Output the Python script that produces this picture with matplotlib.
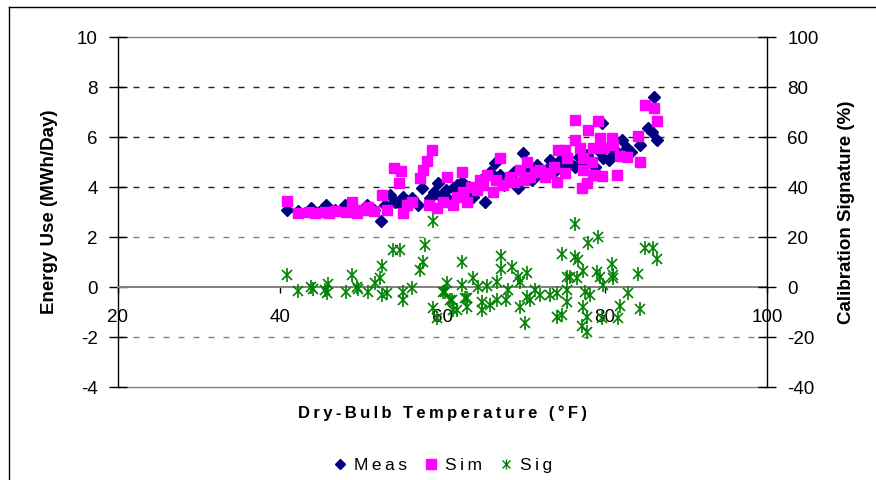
import matplotlib
matplotlib.use("Agg")
import matplotlib.pyplot as plt
from matplotlib.lines import Line2D
from matplotlib.legend_handler import HandlerTuple

plt.rcParams['font.family'] = ['Liberation Sans', 'DejaVu Sans']

# ---------------- data ----------------
meas_temp = [40.8, 42.2, 43.8, 44.8, 45.6, 46.8, 48.0, 49.2, 50.7, 51.5, 52.4, 52.9, 53.5, 54.2,
             55.1, 55.1, 55.8, 56.2, 57.0, 57.5, 58.5, 58.9, 59.4, 59.8, 60.4, 60.8, 61.3, 61.8,
             62.4, 62.8, 63.3, 63.8, 64.4, 64.8, 65.2, 65.8, 66.5, 67.1, 67.6, 68.3, 68.8, 69.3,
             69.9, 70.4, 71.0, 71.6, 72.2, 72.8, 73.3, 73.8, 74.5, 75.1, 75.6, 76.3, 76.8, 77.3,
             77.8, 78.2, 78.8, 79.2, 79.7, 79.8, 80.5, 81.0, 81.3, 82.1, 82.7, 83.2, 84.3, 85.3,
             85.8, 86.1, 86.4]
meas_energy = [3.1, 3.05, 3.15, 3.0, 3.3, 3.1, 3.3, 3.1, 3.3, 3.1, 2.65, 3.3, 3.7, 3.4,
               3.6, 3.2, 3.3, 3.55, 3.3, 3.95, 3.55, 3.8, 4.15, 3.6, 3.9, 3.5, 3.95, 4.1,
               4.2, 3.7, 4.0, 3.6, 4.0, 4.3, 3.4, 4.6, 4.95, 4.5, 4.1, 4.3, 4.6, 3.95,
               5.35, 4.6, 4.3, 4.9, 4.5, 4.7, 5.1, 4.6, 5.1, 4.75, 5.0, 4.8, 5.2, 4.9,
               5.3, 5.1, 4.8, 5.5, 6.55, 5.15, 5.1, 5.3, 5.5, 5.9, 5.55, 5.4, 5.7, 6.35,
               6.2, 7.6, 5.9]

sim_temp = [40.8, 42.2, 43.5, 44.3, 45.5, 46.0, 46.8, 48.1, 48.8, 49.5, 50.2, 50.8, 51.6, 52.5,
            53.2, 54.0, 54.6, 54.9, 55.1, 55.6, 56.2, 57.2, 57.6, 58.1, 58.7, 58.3, 59.3, 60.1,
            60.6, 61.3, 61.8, 62.4, 62.5, 63.0, 63.5, 64.3, 64.6, 65.0, 65.5, 66.2, 66.6, 67.1,
            67.5, 68.3, 68.8, 69.6, 70.0, 70.4, 70.8, 71.4, 72.0, 72.6, 73.3, 73.8, 74.1, 74.2,
            75.1, 75.1, 75.3, 76.3, 76.3, 76.9, 77.2, 77.3, 77.3, 77.8, 77.9, 78.4, 78.6, 78.6,
            78.8, 79.2, 79.4, 79.7, 79.8, 80.9, 81.0, 81.5, 81.9, 82.7, 84.1, 84.35, 85.0, 86.1,
            86.4]
sim_energy = [3.45, 2.95, 3.0, 2.95, 3.0, 2.95, 3.05, 3.0, 3.4, 2.95, 3.1, 3.2, 3.05, 3.7,
              3.1, 4.75, 4.15, 4.65, 2.95, 3.3, 3.4, 4.35, 4.7, 5.05, 5.5, 3.3, 3.15, 3.4,
              4.4, 3.3, 3.6, 4.6, 3.8, 3.4, 4.0, 3.9, 4.3, 4.1, 4.5, 3.8, 4.3, 5.15,
              4.1, 4.4, 4.2, 4.7, 4.3, 5.0, 4.4, 4.6, 4.7, 4.4, 4.55, 4.8, 4.2, 5.5,
              5.5, 4.55, 5.15, 6.7, 5.9, 5.55, 3.95, 5.15, 4.7, 4.15, 6.3, 5.0, 5.55, 4.5,
              4.5, 6.65, 5.95, 4.45, 5.55, 5.95, 5.7, 4.5, 5.25, 5.2, 6.05, 5.0, 7.3, 7.15,
              6.65]

sig_temp = [40.8, 42.2, 43.8, 44.0, 45.5, 45.8, 45.9, 48.1, 48.8, 49.5, 49.6, 50.8, 51.7, 52.3,
            52.5, 52.5, 53.2, 53.9, 54.8, 55.1, 55.1, 56.2, 57.2, 57.6, 57.8, 58.8, 58.8, 59.3,
            60.1, 60.3, 60.5, 60.9, 61.2, 61.3, 61.8, 62.4, 62.4, 62.8, 63.0, 63.0, 63.8, 64.4,
            64.9, 64.9, 65.5, 65.9, 66.7, 66.7, 67.2, 67.2, 67.8, 68.1, 68.6, 69.3, 69.6, 69.6,
            70.2, 70.4, 70.4, 70.8, 71.4, 72.0, 73.3, 74.1, 74.1, 74.7, 74.7, 75.4, 75.4, 75.4,
            75.7, 76.3, 76.3, 76.6, 76.7, 77.2, 77.3, 77.3, 77.6, 77.8, 77.8, 77.9, 78.2, 79.1,
            79.2, 79.4, 79.7, 79.8, 80.9, 81.0, 81.0, 81.6, 81.9, 82.9, 84.1, 84.4, 85.0, 86.0,
            86.4]
sig_pct = [4.8, -1.6, 0.0, -0.8, -1.2, -2.4, 1.2, -2.0, 4.8, 0.0, -0.8, -2.0, 1.6, 3.6,
           8.4, -3.2, -2.4, 14.8, 14.8, -2.0, -5.2, -0.4, 6.8, 10.0, 16.8, 26.4, -8.4, -12.4,
           -2.0, -2.0, 1.6, -5.2, -5.2, -9.2, -9.2, 10.0, 0.8, -4.4, -4.4, -8.0, 3.6, 0.0,
           -6.0, -9.2, 0.4, -7.2, 2.0, -5.2, 12.4, 7.2, -5.2, -1.2, 8.0, 4.0, 2.0, -8.0,
           -14.4, 5.6, -4.0, -5.2, -1.2, -3.2, -3.2, -2.4, -12.0, 13.2, -11.2, 4.0, -1.2, -6.0,
           4.0, 25.2, 12.0, 3.6, 10.8, -15.6, 6.4, -8.0, -2.0, -12.0, -18.0, 17.6, -3.2, 6.0,
           20.0, 4.0, -12.4, 0.8, 9.2, 4.8, 3.6, -12.4, -7.6, -2.4, 5.2, -8.8, 15.6, 15.6,
           11.2]

x_ticks = [20, 40, 60, 80, 100]
y_ticks = [-4, -2, 0, 2, 4, 6, 8, 10]
y2_ticks = [-40, -20, 0, 20, 40, 60, 80, 100]

NAVY = '#000080'
MAGENTA = '#FF00FF'
GREEN = '#008000'
GRAY = '#808080'

# ---------------- figure ----------------
W, H = 876, 480
fig = plt.figure(figsize=(W / 100, H / 100), dpi=100)
fig.patch.set_facecolor('white')

L, R, T, B = 118, 767, 37, 387
ax = fig.add_axes([L / W, 1 - B / H, (R - L) / W, (B - T) / H])
ax2 = ax.twinx()

ax.set_xlim(20, 100)
ax.set_ylim(-4, 10)
ax2.set_ylim(-40, 100)

# gridlines
for yv in [2, -2]:
    ax.axhline(yv, color=GRAY, lw=1.0, dashes=(4.3, 6.5), zorder=0)
for yv in [4, 6, 8]:
    ax.axhline(yv, color='#202020', lw=1.0, dashes=(4.3, 6.5), zorder=0)
ax.axhline(10, color=GRAY, lw=1.0, zorder=0, clip_on=False)
ax.axhline(-4, color=GRAY, lw=1.0, zorder=0, clip_on=False)

# spines
for a in (ax, ax2):
    a.spines['top'].set_visible(False)
    a.spines['bottom'].set_visible(False)
ax.spines['left'].set_color('black')
ax.spines['left'].set_linewidth(1.0)
ax2.spines['right'].set_color('black')
ax2.spines['right'].set_linewidth(1.0)
ax2.spines['left'].set_visible(False)
ax.spines['right'].set_visible(False)

ax.spines['bottom'].set_visible(True)
ax.spines['bottom'].set_position(('data', 0))
ax.spines['bottom'].set_color(GRAY)
ax.spines['bottom'].set_linewidth(1.4)

ax.set_xticks(x_ticks)
ax.set_yticks(y_ticks)
ax2.set_yticks(y2_ticks)
ax.set_xticklabels([str(v) for v in x_ticks])
ax.set_yticklabels([str(v) for v in y_ticks])
ax2.set_yticklabels([str(v) for v in y2_ticks])

ax.tick_params(axis='x', direction='out', length=4, width=1, color='black', pad=12,
               labelsize=13.5)
ax.tick_params(axis='y', direction='inout', length=13, width=1, color='black', pad=8,
               labelsize=13.5)
ax2.tick_params(axis='y', direction='inout', length=13, width=1, color='black', pad=8,
                labelsize=13.5)

# data
ax.plot(meas_temp, meas_energy, linestyle='none', marker='D', ms=6.0, color=NAVY,
        mec=NAVY, zorder=3)
ax.plot(sim_temp, sim_energy, linestyle='none', marker='s', ms=7.5, color=MAGENTA,
        mec=MAGENTA, zorder=4)
ax2.plot(sig_temp, sig_pct, linestyle='none', marker='x', ms=7.2, mew=1.2, color=GREEN,
         zorder=5)
ax2.plot(sig_temp, sig_pct, linestyle='none', marker='|', ms=9.5, mew=1.2, color=GREEN,
         zorder=5)

ax2.set_xlim(20, 100)

# axis labels
thin = '\u2009'
ax.set_ylabel('Energy Use (MWh/Day)', fontsize=13.5, fontweight='bold', labelpad=14)
ax2.set_ylabel('Calibration Signature (%)', fontsize=13.5, fontweight='bold', labelpad=14)
xlabel = thin.join('Dry-Bulb Temperature (°F)')
fig.text((L + R) / 2 / W, 1 - 413 / H, xlabel, ha='center', va='center',
         fontsize=12, fontweight='bold')

# legend
h_meas = Line2D([], [], linestyle='none', marker='D', ms=5, color=NAVY)
h_sim = Line2D([], [], linestyle='none', marker='s', ms=6.5, color=MAGENTA)
h_sig1 = Line2D([], [], linestyle='none', marker='x', ms=5.5, mew=1.0, color=GREEN)
h_sig2 = Line2D([], [], linestyle='none', marker='|', ms=7, mew=1.0, color=GREEN)
leg = fig.legend([h_meas, h_sim, (h_sig1, h_sig2)],
                 [thin.join('Meas'), thin.join('Sim'), thin.join('Sig')],
                 handler_map={tuple: HandlerTuple(ndivide=1, pad=0)},
                 loc='center', bbox_to_anchor=((L + R) / 2 / W, 1 - 465 / H),
                 ncol=3, frameon=False, fontsize=12.5, handlelength=0.8,
                 handletextpad=0.4, columnspacing=1.0)

# figure border (partially visible frame)
fig.add_artist(Line2D([9 / W, 9 / W], [0, 1 - 7 / H], transform=fig.transFigure,
                      color='black', lw=1.0))
fig.add_artist(Line2D([9 / W, 1], [1 - 7 / H, 1 - 7 / H], transform=fig.transFigure,
                      color='black', lw=1.0))

fig.savefig('out.png', dpi=100, facecolor='white')
